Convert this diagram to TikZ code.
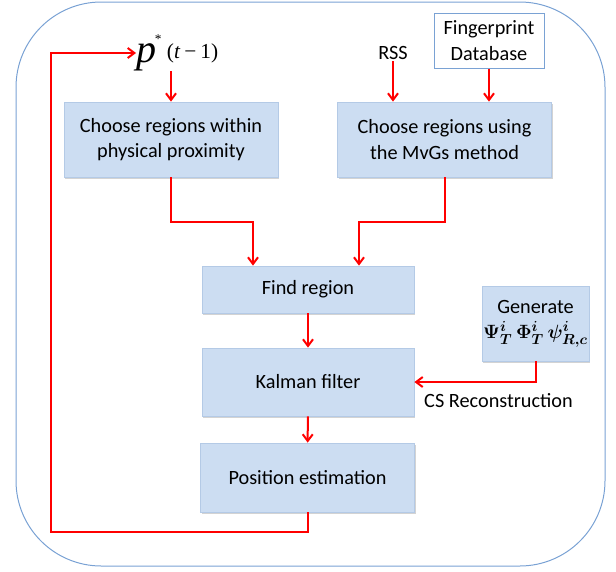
\documentclass[tikz,border=0pt]{standalone}
\usepackage{fontspec}
\setmainfont{Carlito}
\newfontfamily\timesfont{Liberation Serif}
\usetikzlibrary{arrows.meta,shadows}
\definecolor{boxfill}{RGB}{204,221,242}
\definecolor{boxline}{RGB}{180,202,230}
\definecolor{framecol}{RGB}{122,162,212}
\definecolor{arrowred}{RGB}{255,0,0}
\newcommand{\genmath}{{\boldmath\fontsize{15.5}{18}\selectfont$\Psi_T^i\,\Phi_T^i\,\psi_{R,c}^i$}}
\begin{document}
\begin{tikzpicture}
[x=0.75pt,y=-0.75pt,
  boxdecorate/.style={shape=rectangle,draw=boxline,fill=boxfill,line width=0.6pt,align=center,inner sep=2pt,%
    font=\fontsize{15.2}{19}\selectfont,drop shadow={shadow xshift=1pt,shadow yshift=-1.2pt,opacity=0.35,fill=black!50}},%
  textdecorate/.style={inner sep=1pt,align=center,font=\fontsize{15.2}{19}\selectfont},%
  linedecorate/.style={-{Straight Barb[length=5pt,width=7.5pt]},draw=arrowred,line width=1.5pt}]
\useasboundingbox (0,0) rectangle (616,571);
%%% outer frame
\draw[framecol,line width=0.75pt,rounded corners=64pt] (16,2) rectangle (605,566);
%%% boxes of the chain
% nodes or blocks
\node (ppbox) at (171,139.5) [boxdecorate,minimum width=160.5pt,minimum height=56.25pt] {Choose regions within\\physical proximity};
\node (mvgbox) at (444.5,139.5) [boxdecorate,minimum width=160pt,minimum height=56.25pt] {Choose regions using\\the MvGs method};
\node (findbox) at (308,289.5) [boxdecorate,minimum width=159pt,minimum height=35.25pt] {Find region};
\node (kalbox) at (308,382) [boxdecorate,minimum width=159pt,minimum height=51pt] {Kalman filter};
\node (posbox) at (307.5,477.5) [boxdecorate,minimum width=160pt,minimum height=51.75pt] {Position estimation};
\node (genbox) at (535.5,323.5) [boxdecorate,minimum width=80.25pt,minimum height=56.25pt,inner sep=1pt] {Generate\\\genmath};
%%% inputs and labels
\node (fpbox) at (489,40.5) [textdecorate,draw=framecol,fill=white,line width=0.75pt,minimum width=82.5pt,minimum height=41.25pt] {Fingerprint\\Database};
\node (rss) at (393,53) [textdecorate] {RSS};
\node (pstar) at (136,53) [anchor=west,inner sep=0pt] {{\timesfont\itshape\fontsize{30}{30}\selectfont p}\kern-1pt\raisebox{14pt}{\timesfont\fontsize{10}{10}\selectfont *}\kern4pt\raisebox{3pt}{\timesfont\fontsize{16}{16}\selectfont(\textit{t}\kern3pt−\kern3pt1)}};
\node (cslabel) at (498.5,401) [textdecorate] {CS Reconstruction};
\coordinate (loopcorner) at (51,532);
% edges or lines
\draw[linedecorate] (ppbox.north |- pstar.south) -- (ppbox.north);
\draw[linedecorate] (rss.south) -- (rss.south |- mvgbox.north);
\draw[linedecorate] (fpbox.south) -- (fpbox.south |- mvgbox.north);
\draw[linedecorate] (ppbox.south) -- ++(0,45) -| ([xshift=-41.25pt]findbox.north);
\draw[linedecorate] (mvgbox.south) -- ++(0,45) -| ([xshift=38.25pt]findbox.north);
\draw[linedecorate] (findbox) -- (kalbox);
\draw[linedecorate] (kalbox) -- (posbox);
\draw[linedecorate] (genbox.south) |- (kalbox.east);
\draw[linedecorate] (posbox.south) |- (loopcorner) |- (pstar.west);
\end{tikzpicture}
\end{document}
